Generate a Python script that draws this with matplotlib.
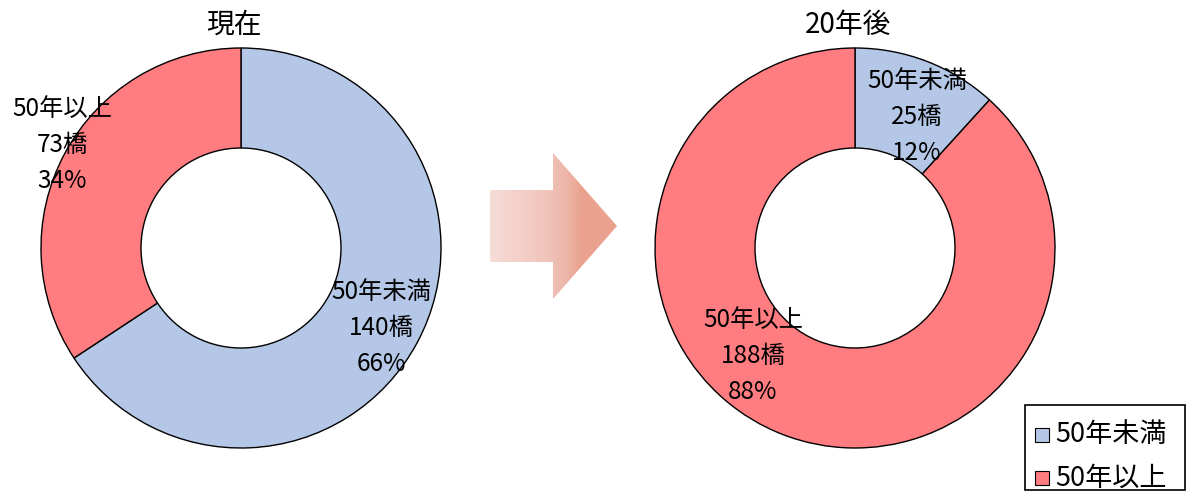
import matplotlib.pyplot as plt
import numpy as np
from matplotlib.patches import Polygon, Rectangle
from matplotlib.colors import LinearSegmentedColormap

plt.rcParams['font.family'] = ['Noto Sans CJK JP', 'DejaVu Sans']

# data
categories = ['50年未満', '50年以上']
now_counts = [140, 73]
future_counts = [25, 188]
titles = ['現在', '20年後']
colors = ['#B4C7E7', '#FF7C80']

fig = plt.figure(figsize=(11.88, 4.93), dpi=100)
ax = fig.add_axes([0, 0, 1, 1])

H = 493


def donut(counts, cx, cy, title, title_x, label_pos):
    total = sum(counts)
    ax.pie(counts, colors=colors, startangle=90, counterclock=False,
           center=(cx, H - cy), radius=200,
           wedgeprops=dict(width=100, edgecolor='black', linewidth=1.0))
    ax.text(title_x, H - 25, title, ha='center', va='center', fontsize=20)
    for cat, c, (lx, ly) in zip(categories, counts, label_pos):
        pct = round(c / total * 100)
        ax.text(lx, H - ly, f'{cat}\n{c}橋\n{pct}%', ha='center', va='center',
                fontsize=17.5, linespacing=1.5)


donut(now_counts, 241, 248, titles[0], 234, [(381, 328), (62, 145)])
donut(future_counts, 855, 248, titles[1], 848, [(917, 117), (753, 356)])

# gradient arrow
arrow_pts = [(490, H - 190), (553, H - 190), (553, H - 153), (617, H - 226),
             (553, H - 299), (553, H - 262), (490, H - 262)]
poly = Polygon(arrow_pts, closed=True, facecolor='none', edgecolor='none')
ax.add_patch(poly)
cmap = LinearSegmentedColormap.from_list(
    'arr', [(0.0, '#F7DDD7'), (0.45, '#F0C4BB'), (0.62, '#EDB3A5'),
            (0.72, '#EAA28F'), (1.0, '#EAA28F')])
grad = np.linspace(0, 1, 256).reshape(1, -1)
im = ax.imshow(grad, cmap=cmap, extent=(490, 617, H - 299, H - 153),
               aspect='auto', zorder=1)
im.set_clip_path(poly)

# legend
ax.add_patch(Rectangle((1025, H - 490), 160, 85, facecolor='white',
                       edgecolor='black', linewidth=1.2))
for i, (cat, col) in enumerate(zip(categories, colors)):
    y = H - (435 + i * 43)
    ax.add_patch(Rectangle((1035, y - 7), 14, 14, facecolor=col,
                           edgecolor='black', linewidth=0.8))
    ax.text(1055, y, cat, ha='left', va='center', fontsize=19.5)

ax.set_xlim(0, 1188)
ax.set_ylim(0, H)
ax.set_aspect('auto')
ax.axis('off')

fig.savefig('out.png', dpi=100)
